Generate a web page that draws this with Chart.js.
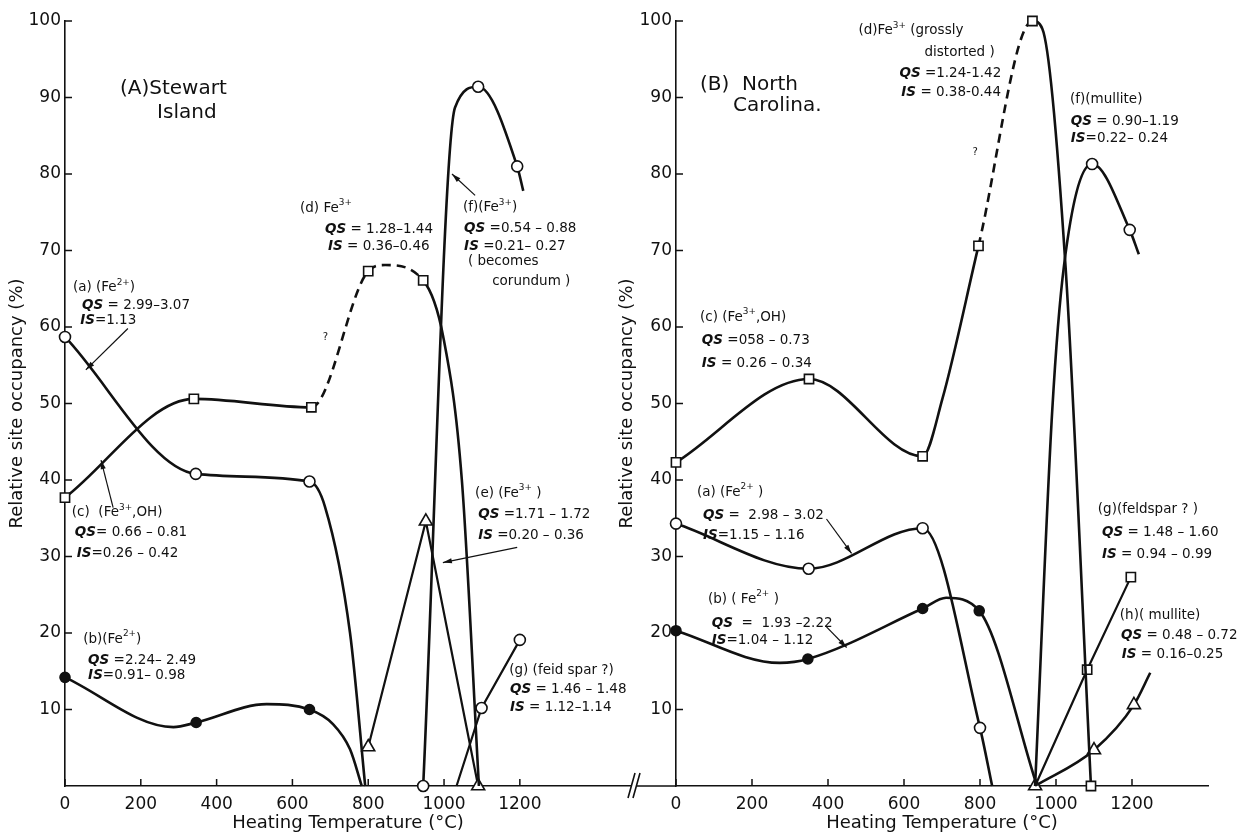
<!DOCTYPE html>
<html>
<head>
<meta charset="utf-8">
<script src="https://cdn.jsdelivr.net/npm/chart.js@4.4.1/dist/chart.umd.min.js"></script>
<style>
  html, body { margin: 0; padding: 0; background: #fff; }
  #wrap { position: relative; width: 1239px; height: 836px; overflow: hidden; }
  .panel { position: absolute; top: 0; height: 836px; }
</style>
</head>
<body>
<div id="wrap">
  <div class="panel" style="left:0;width:640px"><canvas id="chartA"></canvas></div>
  <div class="panel" style="left:600px;width:639px"><canvas id="chartB"></canvas></div>
</div>
<script>
// Values: heating temperature (°C) vs relative site occupancy (%)
// "meas" = 1 where a measured point (marker) sits, 0 where the drawn curve only passes/ends
const tempTicks = [0, 200, 400, 600, 800, 1000, 1200];

// ---- (A) Stewart Island ----
const A_a_temp = [0, 345, 645, 686, 752, 792];
const A_a_occ  = [58.7, 40.8, 39.8, 36.5, 20, 0];
const A_a_meas = [1, 1, 1, 0, 0, 0];

const A_b_temp = [0, 286, 346, 532, 645, 707, 752, 783];
const A_b_occ  = [14.2, 7.7, 8.3, 10.7, 10.0, 8.1, 4.8, 0];
const A_b_meas = [1, 0, 1, 0, 1, 0, 0, 0];

// (c) Fe3+,OH continuing into (d) Fe3+; uncertain = dashed segment starting at that point
const A_cd_temp = [0, 340, 650, 800, 845, 945, 998, 1047, 1092];
const A_cd_occ  = [37.7, 50.6, 49.5, 67.3, 68.1, 66.1, 58.7, 40, 0];
const A_cd_meas = [1, 1, 1, 1, 0, 1, 0, 0, 0];
const A_cd_uncertain = [0, 0, 1, 1, 1, 0, 0, 0, 0];

const A_e_temp = [800, 952, 1090];
const A_e_occ  = [5.1, 34.6, 0];
const A_e_meas = [1, 1, 1];

const A_f_temp = [945, 1029, 1090, 1193, 1209];
const A_f_occ  = [0, 88.7, 91.4, 81.0, 77.8];
const A_f_meas = [1, 0, 1, 1, 0];

const A_g_temp = [1033, 1099, 1200];
const A_g_occ  = [0, 10.2, 19.1];
const A_g_meas = [0, 1, 1];

// ---- (B) North Carolina ----
const B_a_temp = [0, 349, 649, 800, 832];
const B_a_occ  = [34.3, 28.4, 33.7, 7.6, 0];
const B_a_meas = [1, 1, 1, 1, 0];

const B_b_temp = [0, 273, 347, 649, 711, 798, 950];
const B_b_occ  = [20.3, 16.1, 16.6, 23.2, 24.6, 22.9, 0];
const B_b_meas = [1, 0, 1, 1, 0, 1, 0];

const B_cd_temp = [0, 350, 649, 701, 796, 938, 964, 1025, 1092];
const B_cd_occ  = [42.3, 53.2, 43.1, 50.6, 70.6, 100, 99, 68, 0];
const B_cd_meas = [1, 1, 1, 0, 1, 1, 0, 0, 1];
const B_cd_uncertain = [0, 0, 0, 0, 1, 0, 0, 0, 0];

const B_f_temp = [945, 990, 1021, 1095, 1194, 1218];
const B_f_occ  = [0, 49, 68, 81.3, 72.7, 69.5];
const B_f_meas = [0, 0, 0, 1, 1, 0];

const B_g_temp = [945, 1082, 1197];
const B_g_occ  = [0, 15.2, 27.3];
const B_g_meas = [0, 1, 1];

const B_h_temp = [945, 1100, 1205, 1248];
const B_h_occ  = [0, 4.7, 10.6, 14.8];
const B_h_meas = [1, 1, 1, 0];

// annotation text, placed in data coordinates
const notesA = [
  { x: 145, y: 91.1, size: 20, text: '(A)Stewart' },
  { x: 243, y: 88.0, size: 20, text: 'Island' },
  { x: 21, y: 65.1, text: '(a) (Fe^{2+})' },
  { x: 45, y: 62.8, text: '*QS* = 2.99–3.07' },
  { x: 40, y: 60.8, text: '*IS*=1.13' },
  { x: 18, y: 35.7, text: '(c)  (Fe^{3+},OH)' },
  { x: 26, y: 33.1, text: '*QS*= 0.66 – 0.81' },
  { x: 31, y: 30.4, text: '*IS*=0.26 – 0.42' },
  { x: 48, y: 19.2, text: '(b)(Fe^{2+})' },
  { x: 61, y: 16.4, text: '*QS* =2.24– 2.49' },
  { x: 61, y: 14.5, text: '*IS*=0.91– 0.98' },
  { x: 680, y: 58.7, size: 10, text: '?' },
  { x: 620, y: 75.5, text: '(d) Fe^{3+}' },
  { x: 686, y: 72.7, text: '*QS* = 1.28–1.44' },
  { x: 694, y: 70.5, text: '*IS* = 0.36–0.46' },
  { x: 1050, y: 75.6, text: '(f)(Fe^{3+})' },
  { x: 1053, y: 72.9, text: '*QS* =0.54 – 0.88' },
  { x: 1053, y: 70.5, text: '*IS* =0.21– 0.27' },
  { x: 1063, y: 68.5, text: '( becomes' },
  { x: 1127, y: 66.0, text: 'corundum )' },
  { x: 1082, y: 38.3, text: '(e) (Fe^{3+} )' },
  { x: 1090, y: 35.5, text: '*QS* =1.71 – 1.72' },
  { x: 1090, y: 32.7, text: '*IS* =0.20 – 0.36' },
  { x: 1172, y: 15.1, text: '(g) (feid spar ?)' },
  { x: 1174, y: 12.6, text: '*QS* = 1.46 – 1.48' },
  { x: 1174, y: 10.3, text: '*IS* = 1.12–1.14' }
];
const arrowsA = [[166, 59.8, 55, 54.4], [127, 36.4, 95, 42.6], [1082, 77.2, 1021, 80], [1193, 31.2, 997, 29.2]];

const notesB = [
  { x: 63, y: 91.7, size: 20, text: '(B)  North' },
  { x: 150, y: 88.9, size: 20, text: 'Carolina.' },
  { x: 480, y: 98.7, text: '(d)Fe^{3+} (grossly' },
  { x: 654, y: 95.9, text: 'distorted )' },
  { x: 588, y: 93.2, text: '*QS* =1.24-1.42' },
  { x: 593, y: 90.6, text: '*IS* = 0.38-0.44' },
  { x: 780, y: 82.8, size: 10, text: '?' },
  { x: 1037, y: 89.8, text: '(f)(mullite)' },
  { x: 1039, y: 86.9, text: '*QS* = 0.90–1.19' },
  { x: 1039, y: 84.7, text: '*IS*=0.22– 0.24' },
  { x: 63, y: 61.3, text: '(c) (Fe^{3+},OH)' },
  { x: 68, y: 58.2, text: '*QS* =058 – 0.73' },
  { x: 68, y: 55.2, text: '*IS* = 0.26 – 0.34' },
  { x: 55, y: 38.4, text: '(a) (Fe^{2+} )' },
  { x: 71, y: 35.3, text: '*QS* =  2.98 – 3.02' },
  { x: 71, y: 32.8, text: '*IS*=1.15 – 1.16' },
  { x: 84, y: 24.4, text: '(b) ( Fe^{2+} )' },
  { x: 94, y: 21.2, text: '*QS*  =  1.93 –2.22' },
  { x: 94, y: 19.0, text: '*IS*=1.04 – 1.12' },
  { x: 1110, y: 36.2, text: '(g)(feldspar ? )' },
  { x: 1121, y: 33.2, text: '*QS* = 1.48 – 1.60' },
  { x: 1121, y: 30.3, text: '*IS* = 0.94 – 0.99' },
  { x: 1168, y: 22.3, text: '(h)( mullite)' },
  { x: 1171, y: 19.7, text: '*QS* = 0.48 – 0.72' },
  { x: 1173, y: 17.2, text: '*IS* = 0.16–0.25' }
];
const arrowsB = [[396, 34.9, 462, 30.4], [396, 20.8, 449, 18.1]];

const FONT = '"DejaVu Sans"';
const INK = '#111';
Chart.defaults.font.family = FONT;
Chart.defaults.color = INK;

const OPEN_CIRCLE = { style: 'circle', r: 5.5, fill: '#fff' };
const DOT = { style: 'circle', r: 5, fill: INK };
const SQUARE = { style: 'rect', r: 6.5, fill: '#fff' };
const TRIANGLE = { style: 'triangle', r: 7.5, fill: '#fff' };

function series(temp, occ, meas, marker, extra) {
  return Object.assign({
    data: temp.map((t, i) => ({ x: t, y: occ[i] })),
    showLine: true,
    borderColor: INK,
    borderWidth: 2.6,
    cubicInterpolationMode: 'monotone',
    capBezierPoints: false,
    pointStyle: marker.style,
    pointRadius: meas.map(m => m ? marker.r : 0),
    pointBackgroundColor: marker.fill,
    pointBorderColor: INK,
    pointBorderWidth: 1.6,
    clip: false
  }, extra || {});
}
const straight = { cubicInterpolationMode: 'default', tension: 0, borderWidth: 2.2 };
const dashed = flags => ({ segment: { borderDash: c => flags[c.p0DataIndex] ? [9, 6] : undefined } });

function richText(ctx, str, x, y, size) {
  const parts = str.split(/(\^\{[^}]*\}|\*[^*]+\*)/).filter(Boolean);
  let cx = x;
  for (const p of parts) {
    let t = p, sz = size, dy = 0, style = 'normal';
    if (p.startsWith('^{')) { t = p.slice(2, -1); sz = size * 0.66; dy = -size * 0.4; }
    else if (p.startsWith('*')) { t = p.slice(1, -1); style = 'italic bold'; }
    ctx.font = style + ' ' + sz + 'px ' + FONT;
    ctx.fillText(t, cx, y + dy);
    cx += ctx.measureText(t).width;
  }
}

function arrow(ctx, x1, y1, x2, y2) {
  const a = Math.atan2(y2 - y1, x2 - x1);
  ctx.lineWidth = 1.2;
  ctx.beginPath(); ctx.moveTo(x1, y1); ctx.lineTo(x2, y2); ctx.stroke();
  ctx.beginPath();
  ctx.moveTo(x2, y2);
  ctx.lineTo(x2 - 9 * Math.cos(a) + 2.6 * Math.sin(a), y2 - 9 * Math.sin(a) - 2.6 * Math.cos(a));
  ctx.lineTo(x2 - 9 * Math.cos(a) - 2.6 * Math.sin(a), y2 - 9 * Math.sin(a) + 2.6 * Math.cos(a));
  ctx.closePath(); ctx.fill();
}

function decor(notes, arrows, withBreak) {
  return {
    id: 'decor',
    afterDraw(chart) {
      const { ctx, chartArea: area, scales: { x, y } } = chart;
      ctx.save();
      ctx.strokeStyle = INK; ctx.fillStyle = INK; ctx.lineWidth = 1.5;
      // inward tick marks
      ctx.beginPath();
      tempTicks.forEach(t => { const px = x.getPixelForValue(t); ctx.moveTo(px, area.bottom); ctx.lineTo(px, area.bottom - 7); });
      for (let v = 10; v <= 100; v += 10) { const py = y.getPixelForValue(v); ctx.moveTo(area.left, py); ctx.lineTo(area.left + 7, py); }
      ctx.stroke();
      // axis break between the panels
      if (withBreak) {
        ctx.lineWidth = 1.6;
        ctx.beginPath();
        ctx.moveTo(37, area.bottom); ctx.lineTo(area.left, area.bottom);
        ctx.moveTo(28, area.bottom + 12); ctx.lineTo(35, area.bottom - 13);
        ctx.moveTo(33, area.bottom + 12); ctx.lineTo(40, area.bottom - 13);
        ctx.stroke();
      }
      ctx.textBaseline = 'middle';
      notes.forEach(n => richText(ctx, n.text, x.getPixelForValue(n.x), y.getPixelForValue(n.y), n.size || 13.5));
      arrows.forEach(a => arrow(ctx, x.getPixelForValue(a[0]), y.getPixelForValue(a[1]), x.getPixelForValue(a[2]), y.getPixelForValue(a[3])));
      ctx.restore();
    }
  };
}

function options(xMax, yWidth, padRight, yTitlePad) {
  const tickFont = { size: 17 };
  return {
    animation: false,
    responsive: true,
    maintainAspectRatio: false,
    events: [],
    layout: { padding: { top: 21, right: padRight, left: 0, bottom: 0 } },
    plugins: { legend: { display: false }, tooltip: { enabled: false } },
    scales: {
      x: {
        type: 'linear', min: 0, max: xMax,
        border: { display: true, color: INK, width: 1.6 },
        grid: { display: false, drawTicks: false },
        ticks: { stepSize: 200, padding: 8, autoSkip: false, maxRotation: 0, font: tickFont, color: INK,
                 callback: v => (v <= 1200 && v % 200 === 0) ? String(v) : '' },
        title: { display: true, text: 'Heating Temperature (°C)', font: { size: 18 }, color: INK, padding: { top: 0, bottom: 2 } },
        afterFit: s => { s.height = 50; }
      },
      y: {
        type: 'linear', min: 0, max: 100,
        border: { display: true, color: INK, width: 1.6 },
        grid: { display: false, drawTicks: false },
        ticks: { stepSize: 10, padding: 4, font: tickFont, color: INK, callback: v => v === 0 ? '' : String(v) },
        title: { display: true, text: 'Relative site occupancy (%)', font: { size: 18 }, color: INK, padding: { top: yTitlePad, bottom: 0 } },
        afterFit: s => { s.width = yWidth; }
      }
    }
  };
}

new Chart(document.getElementById('chartA'), {
  type: 'scatter',
  data: {
    datasets: [
      series(A_cd_temp, A_cd_occ, A_cd_meas, SQUARE, dashed(A_cd_uncertain)),
      series(A_a_temp, A_a_occ, A_a_meas, OPEN_CIRCLE),
      series(A_b_temp, A_b_occ, A_b_meas, DOT),
      series(A_e_temp, A_e_occ, A_e_meas, TRIANGLE, straight),
      series(A_f_temp, A_f_occ, A_f_meas, OPEN_CIRCLE),
      series(A_g_temp, A_g_occ, A_g_meas, OPEN_CIRCLE, straight)
    ]
  },
  options: options(1493, 65, 9, 7),
  plugins: [decor(notesA, arrowsA, false)]
});

new Chart(document.getElementById('chartB'), {
  type: 'scatter',
  data: {
    datasets: [
      series(B_cd_temp, B_cd_occ, B_cd_meas, SQUARE, dashed(B_cd_uncertain)),
      series(B_a_temp, B_a_occ, B_a_meas, OPEN_CIRCLE),
      series(B_b_temp, B_b_occ, B_b_meas, DOT),
      series(B_f_temp, B_f_occ, B_f_meas, OPEN_CIRCLE),
      series(B_g_temp, B_g_occ, B_g_meas, SQUARE, straight),
      series(B_h_temp, B_h_occ, B_h_meas, TRIANGLE)
    ]
  },
  options: options(1400, 76, 31, 17),
  plugins: [decor(notesB, arrowsB, true)]
});
</script>
</body>
</html>
